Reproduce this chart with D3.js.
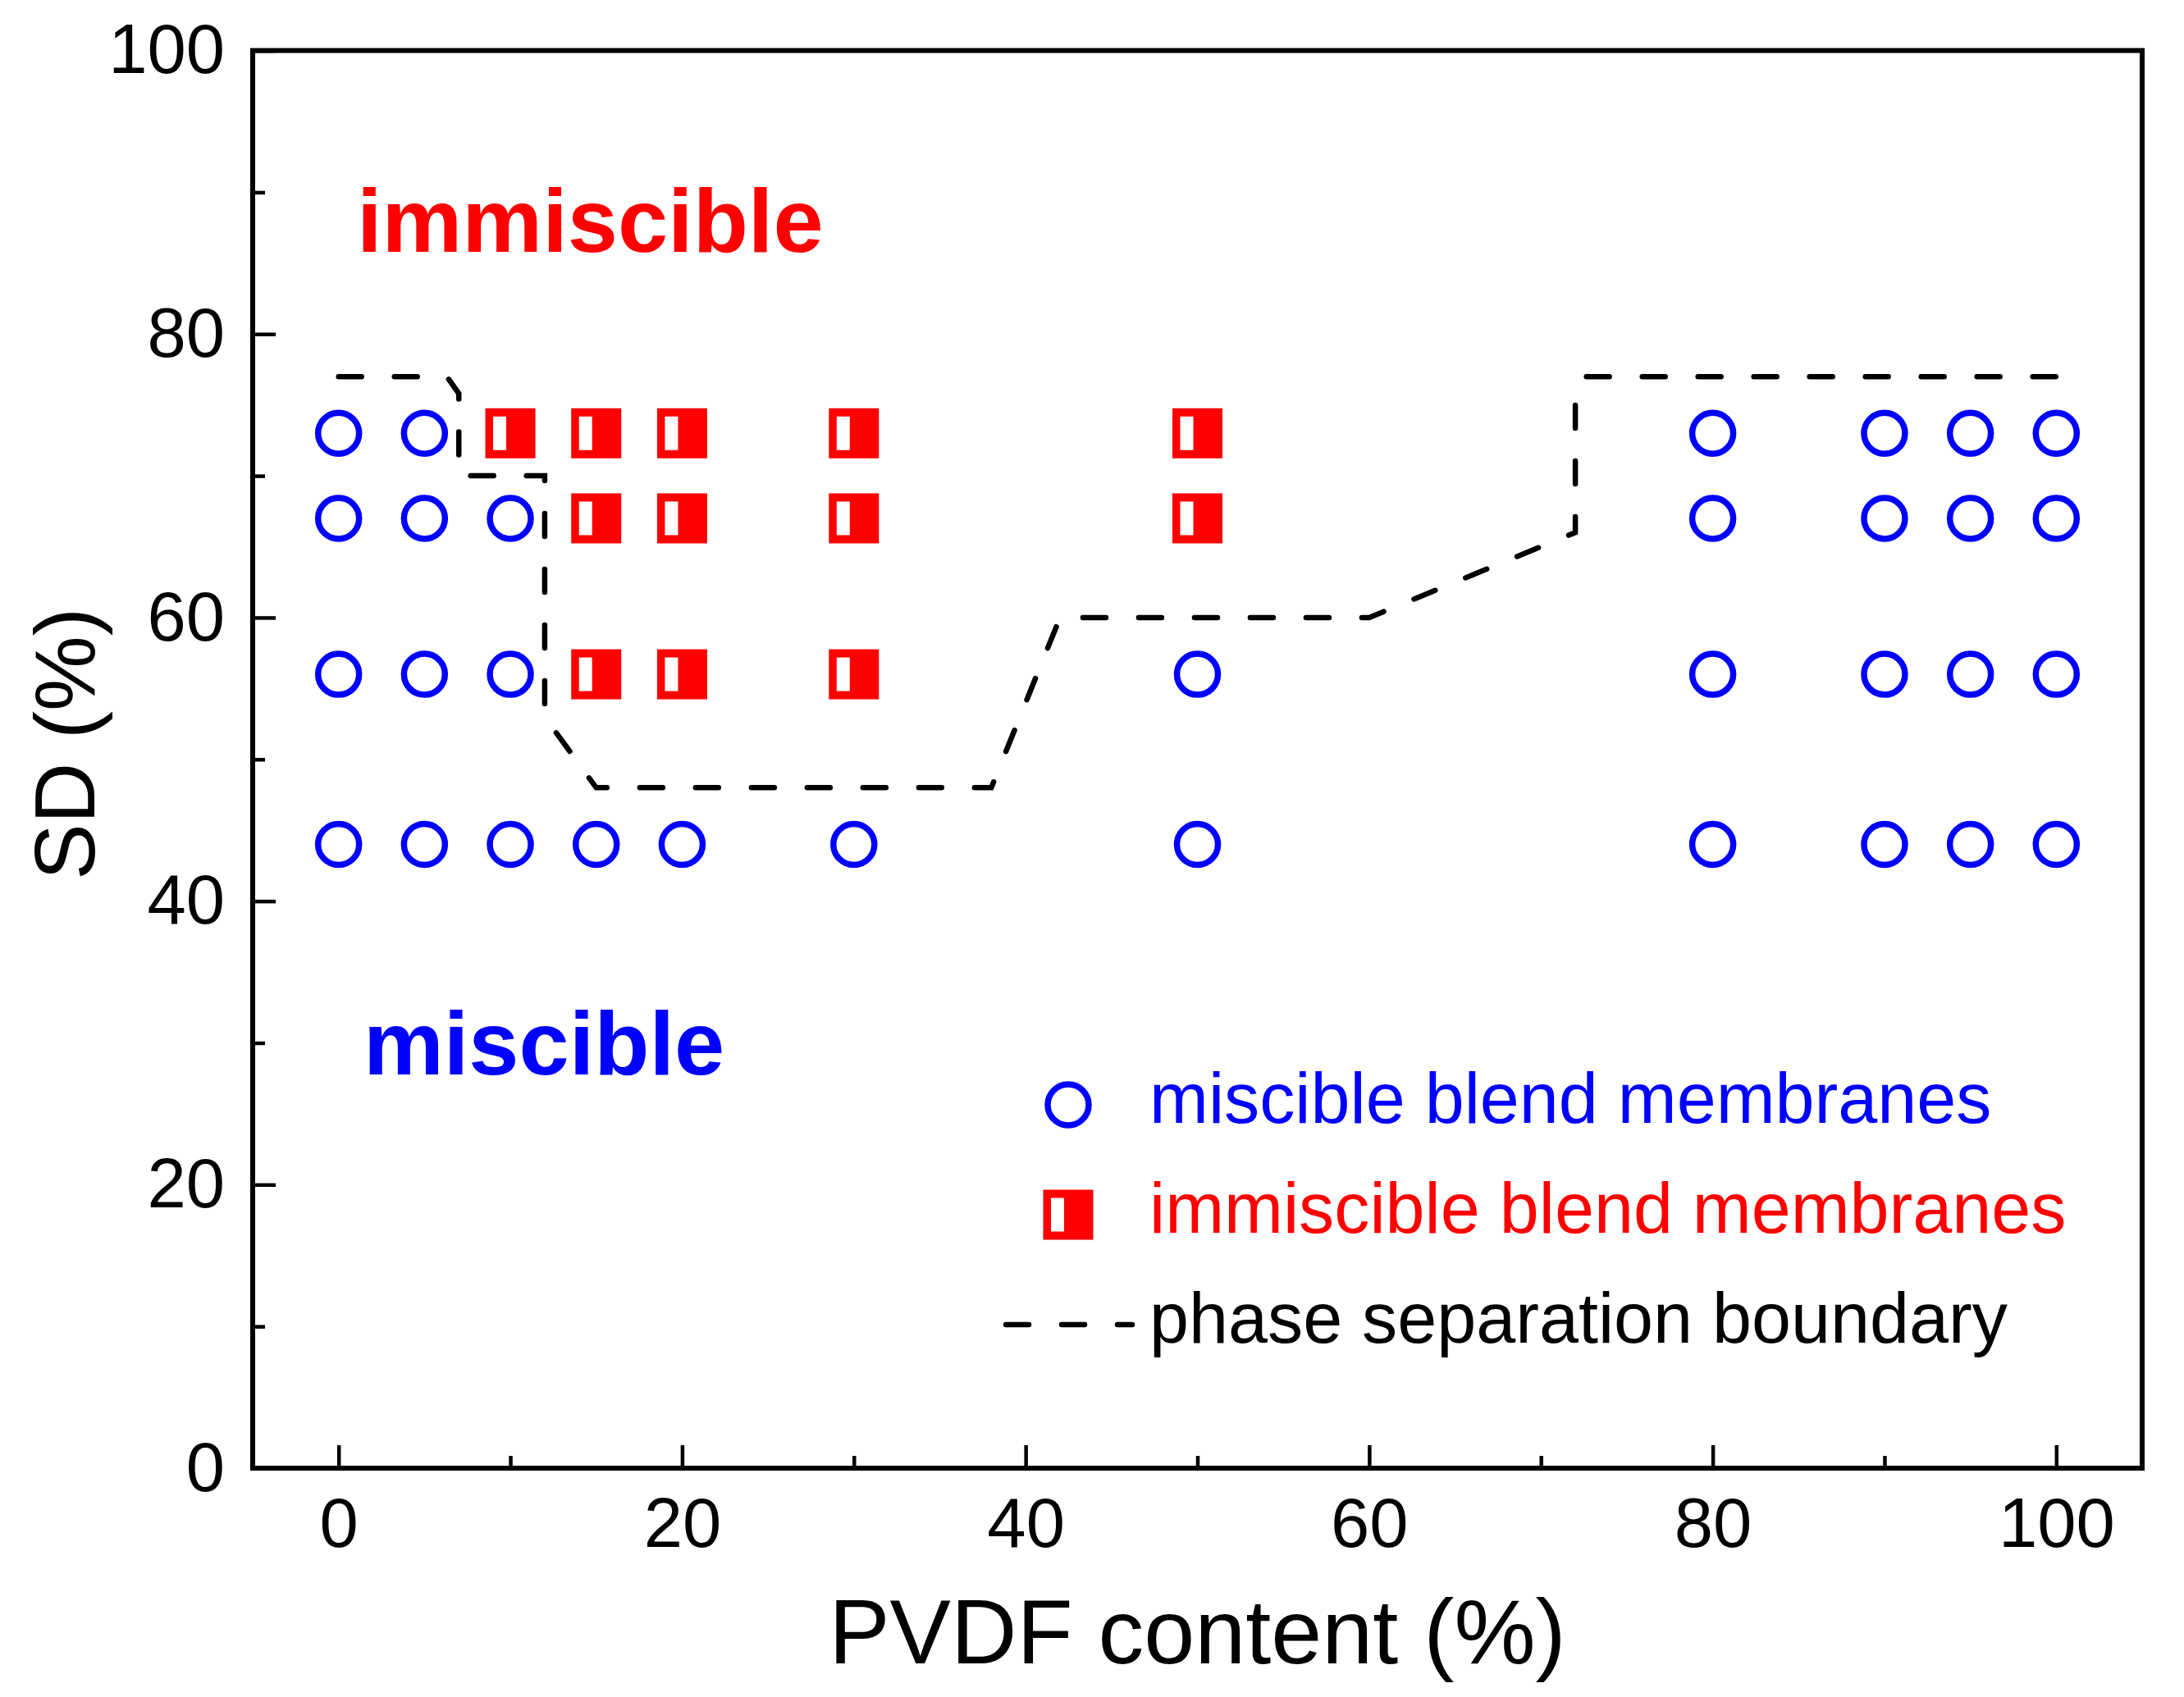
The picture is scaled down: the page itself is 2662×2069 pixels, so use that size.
<!DOCTYPE html>
<html>
<head>
<meta charset="utf-8">
<script src="https://cdn.jsdelivr.net/npm/d3@7"></script>
<style>
  body { margin: 0; background: #fff; }
  text { font-family: "Liberation Sans", Arial, sans-serif; }
</style>
</head>
<body>
<div id="chart"></div>
<script>
const svgWidth = 2662;
const svgHeight = 2069;

const margin = { top: 61.6, right: 51, bottom: 279, left: 308 };
const width = svgWidth - margin.left - margin.right;
const height = svgHeight - margin.top - margin.bottom;

// data
const miscibleX = [0, 0, 0, 0, 5, 5, 5, 5, 10, 10, 10, 15, 20, 30, 50, 50,
  80, 80, 80, 80, 90, 90, 90, 90, 95, 95, 95, 95, 100, 100, 100, 100];
const miscibleSD = [73, 67, 56, 44, 73, 67, 56, 44, 67, 56, 44, 44, 44, 44, 56, 44,
  73, 67, 56, 44, 73, 67, 56, 44, 73, 67, 56, 44, 73, 67, 56, 44];

const immiscibleX = [10, 15, 15, 15, 20, 20, 20, 30, 30, 30, 50, 50];
const immiscibleSD = [73, 73, 67, 56, 73, 67, 56, 73, 67, 56, 73, 67];

const boundaryX = [0, 6.3, 7, 7, 12, 12, 15, 38, 42, 60, 72, 72, 72.5, 100];
const boundaryY = [77, 77, 75.8, 70, 70, 53, 48, 48, 60, 60, 66, 75.5, 77, 77];

const xMajorTicks = [0, 20, 40, 60, 80, 100];
const xMinorTicks = [10, 30, 50, 70, 90];
const yMajorTicks = [0, 20, 40, 60, 80, 100];
const yMinorTicks = [10, 30, 50, 70, 90];

const legendLabels = ["miscible blend membranes", "immiscible blend membranes", "phase separation boundary"];
const legendColors = ["#0000ff", "#ff0000", "#000000"];

const svg = d3.select("#chart")
  .append("svg")
  .attr("width", svgWidth)
  .attr("height", svgHeight);

svg.append("rect")
  .attr("width", svgWidth)
  .attr("height", svgHeight)
  .attr("fill", "#fff");

const chartGroup = svg.append("g")
  .attr("transform", `translate(${margin.left}, ${margin.top})`);

const x = d3.scaleLinear().domain([-5, 105]).range([0, width]);
const y = d3.scaleLinear().domain([0, 100]).range([height, 0]);

// axes, ticks pointing inward
chartGroup.append("g")
  .attr("transform", `translate(0, ${height})`)
  .call(d3.axisBottom(x).tickValues(xMajorTicks).tickSize(-28).tickPadding(36));

chartGroup.append("g")
  .attr("transform", `translate(0, ${height})`)
  .call(d3.axisBottom(x).tickValues(xMinorTicks).tickSize(-15).tickFormat(""));

chartGroup.append("g")
  .call(d3.axisLeft(y).tickValues(yMajorTicks).tickSize(-28).tickPadding(34));

chartGroup.append("g")
  .call(d3.axisLeft(y).tickValues(yMinorTicks).tickSize(-15).tickFormat(""));

chartGroup.selectAll(".domain").remove();
chartGroup.selectAll(".tick line")
  .attr("stroke", "#000")
  .attr("stroke-width", 4.5);
chartGroup.selectAll(".tick text")
  .attr("font-size", 85)
  .attr("font-family", '"Liberation Sans", Arial, sans-serif')
  .attr("fill", "#000");

// frame
chartGroup.append("rect")
  .attr("width", width)
  .attr("height", height)
  .attr("fill", "none")
  .attr("stroke", "#000")
  .attr("stroke-width", 6);

// axis titles
svg.append("text")
  .attr("x", margin.left + width / 2)
  .attr("y", 2028)
  .attr("text-anchor", "middle")
  .attr("font-size", 111.5)
  .text("PVDF content (%)");

svg.append("text")
  .attr("transform", "translate(115, 907) rotate(-90)")
  .attr("text-anchor", "middle")
  .attr("font-size", 103)
  .text("SD (%)");

// region labels
svg.append("text")
  .attr("x", 435)
  .attr("y", 307)
  .attr("font-size", 110)
  .attr("font-weight", "bold")
  .attr("fill", "#ff0000")
  .text("immiscible");

svg.append("text")
  .attr("x", 443)
  .attr("y", 1310)
  .attr("font-size", 110)
  .attr("font-weight", "bold")
  .attr("fill", "#0000ff")
  .text("miscible");

// phase separation boundary
const line = d3.line()
  .x(d => x(d[0]))
  .y(d => y(d[1]));

chartGroup.append("path")
  .datum(d3.zip(boundaryX, boundaryY))
  .attr("d", line)
  .attr("fill", "none")
  .attr("stroke", "#000")
  .attr("stroke-width", 6.5)
  .attr("stroke-linecap", "round")
  .attr("stroke-dasharray", "28 40");

// markers
function drawCircle(g, cx, cy) {
  g.append("circle")
    .attr("cx", cx)
    .attr("cy", cy)
    .attr("r", 25)
    .attr("fill", "none")
    .attr("stroke", "#0000ff")
    .attr("stroke-width", 7.5);
}

function drawHalfSquare(g, cx, cy) {
  g.append("rect")
    .attr("x", cx - 30.5)
    .attr("y", cy - 30.5)
    .attr("width", 61)
    .attr("height", 61)
    .attr("fill", "#ff0000");
  g.append("rect")
    .attr("x", cx - 21)
    .attr("y", cy - 20.5)
    .attr("width", 16)
    .attr("height", 41)
    .attr("fill", "#fff");
}

const markers = chartGroup.append("g");
miscibleX.forEach((v, i) => drawCircle(markers, x(v), y(miscibleSD[i])));
immiscibleX.forEach((v, i) => drawHalfSquare(markers, x(v), y(immiscibleSD[i])));

// legend
const legend = svg.append("g");
const legendRowY = [1369, 1503, 1637];

drawCircle(legend, 1302, 1347);
drawHalfSquare(legend, 1302, 1481);
legend.append("line")
  .attr("x1", 1226)
  .attr("x2", 1380)
  .attr("y1", 1615)
  .attr("y2", 1615)
  .attr("stroke", "#000")
  .attr("stroke-width", 6.5)
  .attr("stroke-linecap", "round")
  .attr("stroke-dasharray", "28 40");

legend.selectAll("text.label")
  .data(legendLabels)
  .enter()
  .append("text")
  .attr("class", "label")
  .attr("x", 1401)
  .attr("y", (d, i) => legendRowY[i])
  .attr("font-size", 86.3)
  .attr("fill", (d, i) => legendColors[i])
  .text(d => d);
</script>
</body>
</html>
